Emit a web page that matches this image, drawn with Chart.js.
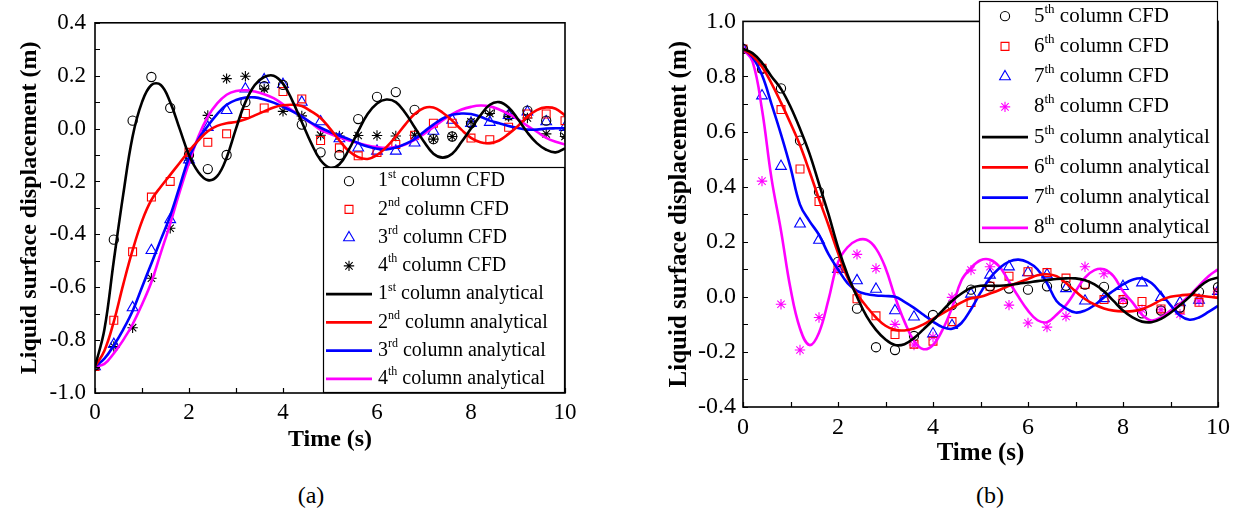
<!DOCTYPE html>
<html lang="en">
<head>
<meta charset="UTF-8" />
<title>Liquid surface displacement</title>
<script src="https://cdn.jsdelivr.net/npm/chart.js"></script>
<style>
  html, body { margin: 0; padding: 0; background: #fff; }
  body { width: 1250px; height: 520px; position: relative; overflow: hidden; font-family: "Liberation Serif", "Times New Roman", serif; }
  canvas { position: absolute; top: 0; }
  #chartA { left: 0; }
  #chartB { left: 625px; }
  .tag { position: absolute; top: 480px; width: 60px; font-size: 24px; line-height: 30px; text-align: center; color: #000; }
</style>
</head>
<body>
<canvas id="chartA" width="625" height="470"></canvas>
<canvas id="chartB" width="625" height="470"></canvas>
<div class="tag" style="left:281px">(a)</div>
<div class="tag" style="left:960px">(b)</div>
<script>
// time bases
const timeCurve = [0, 0.2, 0.4, 0.6, 0.8, 1, 1.2, 1.4, 1.6, 1.8, 2, 2.2, 2.4, 2.6, 2.8, 3, 3.2, 3.4, 3.6, 3.8,
  4, 4.2, 4.4, 4.6, 4.8, 5, 5.2, 5.4, 5.6, 5.8, 6, 6.2, 6.4, 6.6, 6.8, 7, 7.2, 7.4, 7.6, 7.8,
  8, 8.2, 8.4, 8.6, 8.8, 9, 9.2, 9.4, 9.6, 9.8, 10];
const timeCfd = [0, 0.4, 0.8, 1.2, 1.6, 2, 2.4, 2.8, 3.2, 3.6, 4, 4.4, 4.8, 5.2, 5.6, 6, 6.4, 6.8, 7.2, 7.6,
  8, 8.4, 8.8, 9.2, 9.6, 10];

// (a) CFD points, columns 1-4
const cfdCol1 = [-0.895, -0.42, 0.03, 0.195, 0.078, -0.10, -0.153, -0.10, 0.10, 0.16, 0.165, 0.015, -0.09, -0.10, 0.036, 0.12, 0.138, 0.071, -0.04, -0.03, 0.02, 0.068, 0.05, 0.068, 0.03, -0.02];
const cfdCol2 = [-0.9, -0.725, -0.466, -0.259, -0.20, -0.09, -0.052, -0.02, 0.057, 0.078, 0.14, 0.112, -0.045, -0.073, -0.103, -0.09, -0.06, -0.025, 0.02, 0.02, -0.036, -0.042, 0.005, 0.055, 0.055, 0.03];
const cfdCol3 = [-0.9, -0.816, -0.677, -0.461, -0.344, -0.118, 0.005, 0.069, 0.15, 0.185, 0.167, 0.10, 0.026, -0.038, -0.073, -0.085, -0.085, -0.054, -0.01, 0.032, 0.02, 0.024, 0.05, 0.063, 0.026, 0.005];
const cfdCol4 = [-0.9, -0.824, -0.753, -0.566, -0.377, -0.12, 0.05, 0.189, 0.198, 0.15, 0.065, 0.048, -0.025, -0.028, -0.026, -0.026, -0.028, -0.025, -0.04, -0.03, 0.026, 0.057, 0.045, 0.04, -0.02, -0.03];

// (a) analytical curves, columns 1-4
const anaCol1 = [-0.90, -0.76, -0.50, -0.25, -0.03, 0.10, 0.165, 0.165, 0.10, 0.0, -0.10, -0.165, -0.195, -0.18, -0.11, 0.0, 0.10, 0.165, 0.195, 0.20,
  0.17, 0.105, 0.025, -0.055, -0.12, -0.148, -0.135, -0.08, -0.01, 0.055, 0.095, 0.11, 0.10, 0.06, 0.005, -0.05, -0.095, -0.11, -0.095, -0.05,
  0.0, 0.05, 0.09, 0.10, 0.08, 0.035, -0.015, -0.055, -0.08, -0.09, -0.075];
const anaCol2 = [-0.90, -0.84, -0.73, -0.59, -0.46, -0.35, -0.27, -0.22, -0.175, -0.13, -0.085, -0.045, -0.01, 0.01, 0.02, 0.025, 0.035, 0.05, 0.065, 0.08,
  0.088, 0.09, 0.085, 0.065, 0.04, 0.0, -0.045, -0.085, -0.108, -0.115, -0.10, -0.07, -0.03, 0.015, 0.055, 0.078, 0.08, 0.06, 0.03, -0.005,
  -0.035, -0.052, -0.055, -0.045, -0.02, 0.01, 0.045, 0.07, 0.08, 0.075, 0.05];
const anaCol3 = [-0.90, -0.87, -0.82, -0.76, -0.69, -0.60, -0.51, -0.42, -0.33, -0.22, -0.11, -0.04, 0.01, 0.055, 0.09, 0.108, 0.117, 0.118, 0.11, 0.098,
  0.082, 0.065, 0.045, 0.022, 0.003, -0.013, -0.027, -0.04, -0.055, -0.068, -0.076, -0.079, -0.072, -0.058, -0.04, -0.012, 0.015, 0.038, 0.052, 0.057,
  0.055, 0.045, 0.03, 0.02, 0.01, 0.002, -0.004, -0.004, 0.0, 0.001, 0.001];
const anaCol4 = [-0.90, -0.89, -0.85, -0.80, -0.74, -0.665, -0.58, -0.47, -0.36, -0.24, -0.13, -0.03, 0.045, 0.095, 0.128, 0.142, 0.145, 0.14, 0.13, 0.115,
  0.092, 0.068, 0.045, 0.02, -0.005, -0.02, -0.033, -0.045, -0.055, -0.064, -0.07, -0.073, -0.07, -0.06, -0.043, -0.02, 0.005, 0.032, 0.055, 0.072,
  0.082, 0.087, 0.084, 0.072, 0.055, 0.035, 0.01, -0.012, -0.035, -0.05, -0.06];

// (b) CFD points, columns 5-8
const cfdCol5 = [0.9, 0.828, 0.757, 0.567, 0.381, 0.127, -0.043, -0.183, -0.193, -0.142, -0.066, -0.03, 0.026, 0.038, 0.03, 0.026, 0.038, 0.04, 0.044, 0.036, -0.021, -0.06, -0.05, -0.039, 0.018, 0.035];
const cfdCol6 = [0.9, 0.83, 0.68, 0.464, 0.346, 0.103, -0.007, -0.069, -0.137, -0.172, -0.161, -0.09, -0.021, 0.038, 0.075, 0.091, 0.088, 0.068, 0.045, -0.01, -0.01, -0.017, -0.044, -0.045, -0.02, 0.014];
const cfdCol7 = [0.9, 0.73, 0.474, 0.265, 0.206, 0.10, 0.059, 0.028, -0.05, -0.073, -0.134, -0.104, 0.01, 0.079, 0.109, 0.088, 0.08, 0.03, -0.015, -0.006, 0.038, 0.051, -0.002, -0.021, -0.012, 0.02];
const cfdCol8 = [0.9, 0.42, -0.027, -0.193, -0.075, 0.10, 0.154, 0.103, -0.10, -0.175, -0.146, -0.002, 0.097, 0.109, -0.03, -0.095, -0.11, -0.071, 0.109, 0.084, -0.01, -0.047, -0.047, -0.063, -0.015, 0.02];

// (b) analytical curves, columns 5-8
const anaCol5 = [0.90, 0.885, 0.85, 0.80, 0.755, 0.69, 0.61, 0.52, 0.41, 0.30, 0.18, 0.08, 0.0, -0.07, -0.12, -0.155, -0.175, -0.172, -0.15, -0.118,
  -0.085, -0.05, -0.015, 0.012, 0.032, 0.04, 0.04, 0.04, 0.043, 0.048, 0.052, 0.057, 0.061, 0.065, 0.067, 0.067, 0.06, 0.045, 0.02, -0.015,
  -0.05, -0.075, -0.09, -0.092, -0.08, -0.058, -0.03, 0.0, 0.035, 0.06, 0.07];
const anaCol6 = [0.90, 0.875, 0.835, 0.775, 0.705, 0.63, 0.55, 0.455, 0.355, 0.26, 0.16, 0.07, 0.01, -0.035, -0.075, -0.105, -0.12, -0.122, -0.115, -0.10,
  -0.08, -0.06, -0.04, -0.02, -0.005, 0.0, 0.012, 0.025, 0.04, 0.052, 0.065, 0.078, 0.082, 0.075, 0.05, 0.02, -0.008, -0.028, -0.042, -0.05,
  -0.053, -0.052, -0.045, -0.03, -0.012, 0.0, 0.005, 0.008, 0.005, 0.0, -0.004];
const anaCol7 = [0.90, 0.87, 0.805, 0.70, 0.59, 0.47, 0.335, 0.275, 0.225, 0.155, 0.10, 0.05, 0.022, 0.01, 0.005, 0.003, 0.0, -0.018, -0.04, -0.065,
  -0.09, -0.11, -0.116, -0.095, -0.045, 0.015, 0.068, 0.105, 0.128, 0.135, 0.125, 0.10, 0.05, -0.015, -0.042, -0.057, -0.05, -0.03, -0.002, 0.022,
  0.045, 0.062, 0.067, 0.05, 0.012, -0.03, -0.068, -0.083, -0.075, -0.055, -0.033];
const anaCol8 = [0.90, 0.855, 0.68, 0.43, 0.24, 0.03, -0.115, -0.175, -0.13, -0.01, 0.125, 0.18, 0.205, 0.207, 0.175, 0.105, 0.0, -0.09, -0.16, -0.19,
  -0.175, -0.12, -0.04, 0.06, 0.105, 0.133, 0.135, 0.11, 0.055, 0.0, -0.05, -0.085, -0.092, -0.065, -0.03, 0.02, 0.07, 0.097, 0.1, 0.075,
  0.02, -0.02, -0.065, -0.086, -0.075, -0.05, -0.025, 0.005, 0.04, 0.075, 0.10];

// ticks
const xTickValues = [0, 2, 4, 6, 8, 10];
const xTickLabels = ['0', '2', '4', '6', '8', '10'];
const yTickValuesA = [-1.0, -0.8, -0.6, -0.4, -0.2, 0, 0.2, 0.4];
const yTickLabelsA = ['-1.0', '-0.8', '-0.6', '-0.4', '-0.2', '0.0', '0.2', '0.4'];
const yTickValuesB = [-0.4, -0.2, 0, 0.2, 0.4, 0.6, 0.8, 1.0];
const yTickLabelsB = ['-0.4', '-0.2', '0.0', '0.2', '0.4', '0.6', '0.8', '1.0'];

// legend wording
const ordinalsA = [['1', 'st'], ['2', 'nd'], ['3', 'rd'], ['4', 'th']];
const ordinalsB = [['5', 'th'], ['6', 'th'], ['7', 'th'], ['8', 'th']];

// styles
const FONT = '"Liberation Serif", "Times New Roman", serif';
const lineColors = ['#000000', '#ff0000', '#0000ff', '#ff00ff'];
const markerColorsA = ['#000000', '#ff0000', '#0000ff', '#000000'];
const markerColorsB = ['#000000', '#ff0000', '#0000ff', '#ff00ff'];
const markerStyles = ['circle', 'rect', 'triangle', 'star'];
const markerRadius = { circle: 4.6, rect: 5.6, triangle: 6.2, star: 5.2 };

function drawMarker(ctx, style, x, y, color) {
  ctx.save();
  ctx.strokeStyle = color;
  ctx.fillStyle = 'rgba(0,0,0,0)';
  ctx.lineWidth = 1.1;
  if (Chart.helpers && Chart.helpers.drawPoint) {
    Chart.helpers.drawPoint(ctx, { pointStyle: style, radius: markerRadius[style], borderWidth: 1.1, rotation: 0 }, x, y);
  } else {
    ctx.beginPath();
    ctx.arc(x, y, markerRadius[style], 0, Math.PI * 2);
    ctx.stroke();
  }
  ctx.restore();
}

function drawLabel(ctx, x, y, num, sup, rest, size) {
  ctx.fillStyle = '#000';
  ctx.textBaseline = 'middle';
  ctx.textAlign = 'left';
  ctx.font = size + 'px ' + FONT;
  ctx.fillText(num, x, y);
  x += ctx.measureText(num).width;
  ctx.font = Math.round(size * 0.62) + 'px ' + FONT;
  ctx.fillText(sup, x, y - size * 0.33);
  x += ctx.measureText(sup).width;
  ctx.font = size + 'px ' + FONT;
  ctx.fillText(rest, x, y);
}

// frame with inward ticks plus the boxed legend
function framePlugin(lg, markerColors) {
  return {
    id: 'frameLegend',
    afterDraw(chart) {
      const { ctx, chartArea: a, scales: { x, y } } = chart;
      ctx.save();
      ctx.strokeStyle = '#000';
      ctx.lineWidth = 1.2;
      ctx.beginPath();
      for (let v = x.min; v <= x.max + 1e-9; v += 1) {
        const px = Math.round(x.getPixelForValue(v)) + 0.5;
        ctx.moveTo(px, a.bottom); ctx.lineTo(px, a.bottom - 5);
      }
      for (let k = 0; ; k++) {
        const v = y.min + k * 0.1;
        if (v > y.max + 1e-9) break;
        const py = Math.round(y.getPixelForValue(v)) + 0.5;
        ctx.moveTo(a.left, py); ctx.lineTo(a.left + 5, py);
      }
      ctx.stroke();
      ctx.lineWidth = 1.6;
      ctx.strokeRect(a.left, a.top, a.right - a.left, a.bottom - a.top);

      // legend box
      const right = a.right, bottom = lg.bottom === null ? a.bottom : lg.bottom;
      ctx.fillStyle = '#fff';
      ctx.fillRect(lg.left, lg.top, right - lg.left, bottom - lg.top);
      ctx.lineWidth = 1.2;
      ctx.strokeRect(lg.left + 0.5, lg.top + 0.5, right - lg.left - 1, bottom - lg.top - 1);
      const rowH = (bottom - lg.top) / 8;
      for (let r = 0; r < 8; r++) {
        const i = r % 4;
        const cy = lg.top + rowH * (r + 0.5);
        if (r < 4) {
          drawMarker(ctx, markerStyles[i], lg.left + 26, cy, markerColors[i]);
        } else {
          ctx.strokeStyle = lineColors[i];
          ctx.lineWidth = 2.6;
          ctx.beginPath();
          ctx.moveTo(lg.left + 3, cy); ctx.lineTo(lg.left + 49, cy);
          ctx.stroke();
        }
        const word = r < 4 ? ' column CFD' : ' column analytical';
        drawLabel(ctx, lg.left + 55, cy, lg.ordinals[i][0], lg.ordinals[i][1], word, lg.fontSize);
      }
      ctx.restore();
    }
  };
}

function buildChart(id, p) {
  const datasets = [];
  p.cfd.forEach((vals, i) => datasets.push({
    data: timeCfd.map((t, k) => ({ x: t, y: vals[k] })),
    showLine: false,
    pointStyle: markerStyles[i],
    pointRadius: markerRadius[markerStyles[i]],
    pointHoverRadius: markerRadius[markerStyles[i]],
    pointBorderColor: p.markerColors[i],
    pointBackgroundColor: 'rgba(0,0,0,0)',
    pointBorderWidth: 1.1,
    order: 2
  }));
  p.curves.forEach((vals, i) => datasets.push({
    data: timeCurve.map((t, k) => ({ x: t, y: vals[k] })),
    showLine: true,
    borderColor: lineColors[i],
    borderWidth: 2.6,
    pointRadius: 0,
    tension: 0.4,
    fill: false,
    order: 1
  }));

  return new Chart(document.getElementById(id).getContext('2d'), {
    type: 'scatter',
    data: { datasets },
    options: {
      animation: false,
      responsive: false,
      devicePixelRatio: 1,
      layout: { padding: p.padding },
      plugins: { legend: { display: false }, tooltip: { enabled: false } },
      scales: {
        x: {
          type: 'linear', min: 0, max: 10,
          afterFit(s) { s.height = p.xHeight; },
          afterBuildTicks(s) { s.ticks = xTickValues.map(v => ({ value: v })); },
          grid: { display: false, drawTicks: false },
          border: { display: false },
          ticks: {
            color: '#000', autoSkip: false, maxRotation: 0, padding: 6,
            font: { family: FONT, size: p.tickSize },
            callback: (v, i) => xTickLabels[i]
          },
          title: {
            display: true, text: 'Time (s)', color: '#000',
            font: { family: FONT, size: p.titleSize, weight: 'bold' },
            padding: { top: 0, bottom: p.xTitlePad }
          }
        },
        y: {
          type: 'linear', min: p.yTicks[0], max: p.yTicks[p.yTicks.length - 1],
          afterFit(s) { s.width = p.yWidth; },
          afterBuildTicks(s) { s.ticks = p.yTicks.map(v => ({ value: v })); },
          grid: { display: false, drawTicks: false },
          border: { display: false },
          ticks: {
            color: '#000', autoSkip: false, padding: p.yTickPad,
            font: { family: FONT, size: p.tickSize },
            callback: (v, i) => p.yLabels[i]
          },
          title: {
            display: true, text: 'Liquid surface displacement (m)', color: '#000',
            font: { family: FONT, size: p.titleSize, weight: 'bold' },
            padding: { top: p.yTitlePad, bottom: 0 }
          }
        }
      }
    },
    plugins: [framePlugin(p.legend, p.markerColors)]
  });
}

buildChart('chartA', {
  cfd: [cfdCol1, cfdCol2, cfdCol3, cfdCol4],
  curves: [anaCol1, anaCol2, anaCol3, anaCol4],
  markerColors: markerColorsA,
  yTicks: yTickValuesA, yLabels: yTickLabelsA,
  padding: { top: 14, right: 60, bottom: 0, left: 0 },
  xHeight: 77, yWidth: 95,
  tickSize: 23, titleSize: 24, yTickPad: 9, xTitlePad: 16, yTitlePad: 15,
  legend: { left: 323, top: 167, bottom: null, ordinals: ordinalsA, fontSize: 20 }
});

buildChart('chartB', {
  cfd: [cfdCol5, cfdCol6, cfdCol7, cfdCol8],
  curves: [anaCol5, anaCol6, anaCol7, anaCol8],
  markerColors: markerColorsB,
  yTicks: yTickValuesB, yLabels: yTickLabelsB,
  padding: { top: 13, right: 32, bottom: 0, left: 0 },
  xHeight: 63, yWidth: 118,
  tickSize: 24, titleSize: 25, yTickPad: 7, xTitlePad: 1, yTitlePad: 40,
  legend: { left: 354, top: 1, bottom: 243, ordinals: ordinalsB, fontSize: 21 }
});
</script>
</body>
</html>
